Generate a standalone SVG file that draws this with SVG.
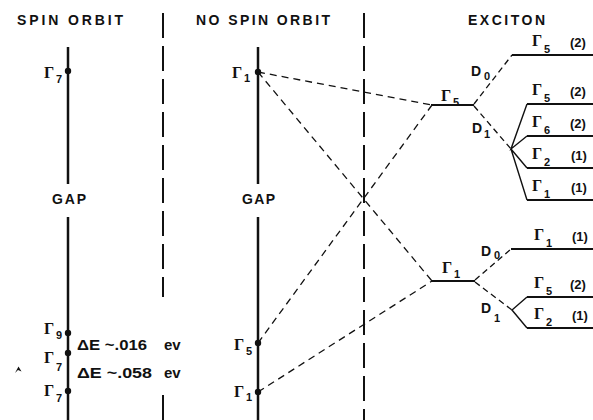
<svg xmlns="http://www.w3.org/2000/svg" width="593" height="420" viewBox="0 0 593 420">
<defs>
<style>
.hdr{font-family:"Liberation Sans",Arial,sans-serif;font-weight:bold;font-size:14px;fill:#111}
.gam{font-family:"Liberation Serif","Times New Roman",serif;font-weight:bold;font-size:16px;fill:#111}
.sub{font-family:"Liberation Sans",Arial,sans-serif;font-weight:bold;font-size:11px;fill:#111}
.lbl{font-family:"Liberation Sans",Arial,sans-serif;font-weight:bold;font-size:14px;fill:#111}
.deg{font-family:"Liberation Sans",Arial,sans-serif;font-weight:bold;font-size:13px;fill:#111}
.de{font-family:"Liberation Sans",Arial,sans-serif;font-weight:bold;font-size:15px;fill:#111}
.axis{stroke:#111;stroke-width:2.5;fill:none}
.sep{stroke:#111;stroke-width:2;stroke-dasharray:25 8;fill:none}
.dash{stroke:#111;stroke-width:1.3;stroke-dasharray:7 5;fill:none}
.edash{stroke:#111;stroke-width:1.3;stroke-dasharray:6 4;fill:none}
.lvl{stroke:#111;stroke-width:2;fill:none}
.fan{stroke:#111;stroke-width:1.4;fill:none}
.dot{fill:#111}
</style>
</defs>
<rect width="593" height="420" fill="#fff"/>

<g id="headers">
<text class="hdr" x="17" y="25" textLength="106" lengthAdjust="spacing">SPIN ORBIT</text>
<text class="hdr" x="196" y="25" textLength="134" lengthAdjust="spacing">NO SPIN ORBIT</text>
<text class="hdr" x="468" y="25" textLength="77" lengthAdjust="spacing">EXCITON</text>
</g>

<g id="separators">
<line class="sep" x1="163" y1="13" x2="163" y2="297"/>
<line class="sep" x1="163" y1="395" x2="163" y2="420"/>
<line class="sep" x1="364" y1="13" x2="364" y2="420"/>
</g>

<g id="spin-orbit">
<line class="axis" x1="68" y1="47" x2="68" y2="184"/>
<line class="axis" x1="68" y1="217" x2="68" y2="420"/>
<text class="lbl" x="52" y="204" textLength="34" lengthAdjust="spacing">GAP</text>
<circle class="dot" cx="68" cy="71" r="3.2"/>
<text class="gam" x="44" y="78">Γ</text><text class="sub" x="56" y="83">7</text>
<circle class="dot" cx="68" cy="333" r="3.2"/>
<text class="gam" x="44" y="334">Γ</text><text class="sub" x="56" y="339">9</text>
<circle class="dot" cx="68" cy="353" r="3.2"/>
<text class="gam" x="44" y="363">Γ</text><text class="sub" x="56" y="371">7</text>
<circle class="dot" cx="68" cy="391" r="3.2"/>
<text class="gam" x="44" y="396">Γ</text><text class="sub" x="56" y="402">7</text>
<text class="de" x="77" y="350" textLength="70" lengthAdjust="spacingAndGlyphs">ΔE ~.016</text>
<text class="de" x="164" y="350">ev</text>
<text class="de" x="77" y="378" textLength="75" lengthAdjust="spacingAndGlyphs">ΔE ~.058</text>
<text class="de" x="164" y="378">ev</text>
<path d="M15 373 L18.5 366.5 L21.5 371.5 L18 370 Z" fill="#111"/>
</g>

<g id="no-spin-orbit">
<line class="axis" x1="258" y1="47" x2="258" y2="184"/>
<line class="axis" x1="258" y1="217" x2="258" y2="420"/>
<text class="lbl" x="242" y="204" textLength="33" lengthAdjust="spacing">GAP</text>
<circle class="dot" cx="258" cy="72" r="3.2"/>
<text class="gam" x="232" y="78">Γ</text><text class="sub" x="244" y="82">1</text>
<circle class="dot" cx="258" cy="343" r="3.2"/>
<text class="gam" x="234" y="350">Γ</text><text class="sub" x="246" y="355">5</text>
<circle class="dot" cx="258" cy="392" r="3.2"/>
<text class="gam" x="234" y="397">Γ</text><text class="sub" x="246" y="401">1</text>
</g>

<g id="connectors">
<line class="dash" x1="258" y1="72" x2="432" y2="105"/>
<line class="dash" x1="258" y1="72" x2="432" y2="281"/>
<line class="dash" x1="258" y1="343" x2="432" y2="105"/>
<line class="dash" x1="258" y1="392" x2="432" y2="281"/>
<line class="edash" x1="474" y1="104" x2="512" y2="55"/>
<line class="edash" x1="474" y1="106" x2="511" y2="149"/>
<polyline class="fan" points="527,104 511,149 527,136"/>
<polyline class="fan" points="527,168 511,149 527,200"/>
<line class="edash" x1="475" y1="280" x2="511" y2="249"/>
<line class="edash" x1="475" y1="282" x2="512" y2="310"/>
<polyline class="fan" points="527,297 512,310 527,328"/>
</g>

<g id="exciton-g5">
<line class="lvl" x1="431" y1="105" x2="474" y2="105"/>
<text class="gam" x="441" y="101">Γ</text><text class="sub" x="453" y="106">5</text>
<text class="lbl" x="471" y="76">D</text><text class="sub" x="484" y="80">0</text>
<text class="lbl" x="472" y="133">D</text><text class="sub" x="484" y="138">1</text>
</g>
<g id="exciton-g1">
<line class="lvl" x1="431" y1="281" x2="475" y2="281"/>
<text class="gam" x="442" y="273">Γ</text><text class="sub" x="454" y="278">1</text>
<text class="lbl" x="481" y="256">D</text><text class="sub" x="494" y="259">0</text>
<text class="lbl" x="481" y="313">D</text><text class="sub" x="494" y="322">1</text>
</g>

<g id="level-g5-2a">
<line class="lvl" x1="512" y1="55" x2="593" y2="55"/>
<text class="gam" x="532" y="46">Γ</text><text class="sub" x="544" y="53">5</text><text class="deg" x="570" y="47">(2)</text>
</g>
<g id="level-g5-2b">
<line class="lvl" x1="527" y1="104" x2="593" y2="104"/>
<text class="gam" x="532" y="95">Γ</text><text class="sub" x="544" y="102">5</text><text class="deg" x="570" y="96">(2)</text>
</g>
<g id="level-g6-2">
<line class="lvl" x1="527" y1="136" x2="593" y2="136"/>
<text class="gam" x="532" y="127">Γ</text><text class="sub" x="544" y="134">6</text><text class="deg" x="570" y="128">(2)</text>
</g>
<g id="level-g2-1a">
<line class="lvl" x1="527" y1="168" x2="593" y2="168"/>
<text class="gam" x="532" y="159">Γ</text><text class="sub" x="544" y="166">2</text><text class="deg" x="571" y="160">(1)</text>
</g>
<g id="level-g1-1a">
<line class="lvl" x1="527" y1="200" x2="593" y2="200"/>
<text class="gam" x="532" y="191">Γ</text><text class="sub" x="544" y="198">1</text><text class="deg" x="571" y="192">(1)</text>
</g>
<g id="level-g1-1b">
<line class="lvl" x1="511" y1="249" x2="593" y2="249"/>
<text class="gam" x="534" y="240">Γ</text><text class="sub" x="546" y="247">1</text><text class="deg" x="572" y="241">(1)</text>
</g>
<g id="level-g5-2c">
<line class="lvl" x1="527" y1="297" x2="593" y2="297"/>
<text class="gam" x="534" y="288">Γ</text><text class="sub" x="546" y="295">5</text><text class="deg" x="570" y="289">(2)</text>
</g>
<g id="level-g2-1b">
<line class="lvl" x1="527" y1="328" x2="593" y2="328"/>
<text class="gam" x="534" y="319">Γ</text><text class="sub" x="546" y="326">2</text><text class="deg" x="572" y="320">(1)</text>
</g>
</svg>
